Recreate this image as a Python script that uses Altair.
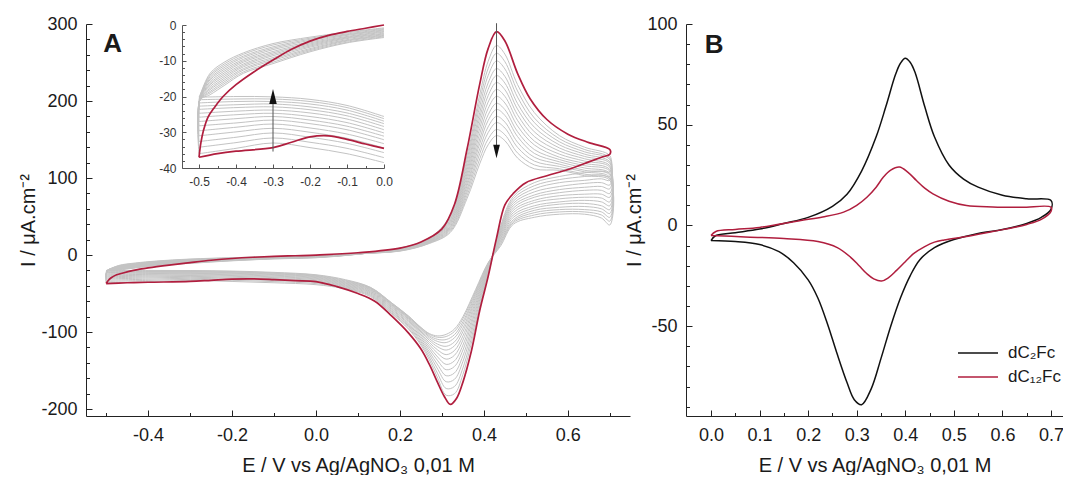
import altair as alt
import pandas as pd

FONT = "Liberation Sans"
TXT = "#1a1a1a"
AXC = "#222222"
GRAY = "#c3c3c3"
RED = "#b01e3e"
BLACK = "#111111"

# ---------------- Panel A data (I in uA/cm2, E in V) ----------------
# gray cycles 2..15 : rows = potentials, columns = cycles
GF_E = [-0.5, -0.497, -0.47, -0.43, -0.38, -0.3, -0.2, -0.1, 0.0, 0.1, 0.2, 0.27,
        0.32, 0.36, 0.39, 0.41, 0.43, 0.45, 0.48, 0.52, 0.58, 0.64, 0.7]
GRAY_FWD = [
    [-36.0, -34.2, -32.6, -31.0, -29.6, -28.2, -27.0, -25.8, -24.7, -23.6, -22.7, -21.8, -20.9, -20.2],
    [-21.0, -20.9, -20.8, -20.7, -20.6, -20.5, -20.4, -20.3, -20.2, -20.1, -20.0, -19.9, -19.7, -19.5],
    [-19.5, -19.0, -18.6, -18.1, -17.7, -17.2, -16.7, -16.3, -15.8, -15.3, -14.9, -14.4, -14.0, -13.5],
    [-16.8, -16.3, -15.8, -15.3, -14.8, -14.3, -13.8, -13.3, -12.8, -12.3, -11.8, -11.3, -10.8, -10.3],
    [-13.5, -13.1, -12.6, -12.2, -11.7, -11.3, -10.9, -10.4, -10.0, -9.6, -9.1, -8.7, -8.2, -7.8],
    [-10.8, -10.4, -9.9, -9.5, -9.1, -8.6, -8.2, -7.8, -7.4, -6.9, -6.5, -6.1, -5.6, -5.2],
    [-7.5, -7.2, -6.9, -6.6, -6.2, -5.9, -5.6, -5.3, -5.0, -4.7, -4.3, -4.0, -3.7, -3.4],
    [-5.0, -4.8, -4.5, -4.3, -4.1, -3.8, -3.6, -3.4, -3.2, -2.9, -2.7, -2.5, -2.2, -2.0],
    [-3.5, -3.3, -3.1, -2.9, -2.7, -2.5, -2.3, -2.0, -1.8, -1.6, -1.4, -1.2, -1.0, -0.8],
    [1.0, 1.1, 1.2, 1.2, 1.3, 1.4, 1.5, 1.5, 1.6, 1.7, 1.8, 1.8, 1.9, 2.0],
    [9.0, 8.7, 8.4, 8.1, 7.8, 7.5, 7.2, 6.9, 6.6, 6.3, 6.0, 5.7, 5.4, 5.1],
    [22, 21, 20.5, 20, 19.5, 19, 18.5, 18, 17.5, 17, 16.5, 16, 15.5, 15],
    [51.6, 49.7, 47.8, 45.9, 44.2, 42.5, 40.8, 39.1, 37.3, 35.9, 34.2, 32.6, 30.9, 29.4],
    [129.4, 124.6, 119.9, 115.1, 110.8, 106.5, 102.3, 98.0, 93.7, 90.0, 85.7, 81.8, 77.6, 73.7],
    [208.2, 200.5, 192.9, 185.1, 178.3, 171.4, 164.5, 157.6, 150.7, 144.7, 137.9, 131.6, 124.8, 118.5],
    [251.4, 242.0, 232.9, 223.5, 215.2, 206.9, 198.6, 190.3, 182.0, 174.7, 166.4, 158.9, 150.6, 143.1],
    [272, 262, 252, 242, 233, 224, 215, 206, 197, 189, 180, 172, 163, 155],
    [260.8, 251.0, 241.6, 231.9, 223.2, 214.6, 206.0, 197.4, 188.8, 181.3, 172.6, 164.9, 156.2, 148.5],
    [221.4, 213.1, 205.1, 196.8, 189.5, 182.2, 174.9, 167.6, 160.2, 153.9, 146.6, 139.9, 132.6, 126.0],
    [185, 178, 172, 166, 160, 154, 148, 143, 137, 132, 127, 122, 117, 112],
    [155, 151, 147, 143, 139, 135, 131, 127, 124, 121, 118, 115, 112, 110],
    [140, 137, 134, 131, 128, 125, 122, 119, 116, 113, 110, 108, 105, 103],
    [129, 126, 124, 121, 119, 116, 114, 111, 109, 106, 104, 101, 99, 97],
]
GR_E = [0.7, 0.68, 0.64, 0.58, 0.52, 0.47, 0.44, 0.41, 0.38, 0.35, 0.33, 0.31, 0.29,
        0.27, 0.25, 0.22, 0.18, 0.13, 0.07, 0.0, -0.1, -0.2, -0.3, -0.4, -0.5]
GRAY_REV = [
    [108, 102, 97, 91, 86, 80, 75, 69, 64, 59, 54, 49, 44, 39],
    [109, 104, 99, 94, 89, 84, 79, 74, 69, 64, 60, 56, 52, 48],
    [107, 102, 97, 93, 88, 84, 79, 75, 71, 67, 63, 59, 56, 53],
    [102, 98, 94, 89, 85, 81, 77, 73, 69, 66, 62, 59, 56, 53],
    [94, 90, 86, 82, 78, 75, 71, 68, 64, 61, 58, 55, 52, 49],
    [76, 73, 70, 67, 64, 61, 58, 55, 52, 49, 46, 44, 42, 40],
    [38, 36, 34, 32, 30, 28, 26, 24, 22, 20, 18, 16, 14, 12],
    [-26.0, -24.2, -22.3, -20.8, -19.2, -17.8, -16.4, -15.3, -14.1, -13.2, -12.2, -11.4, -10.6, -10.0],
    [-92.0, -86.7, -81.5, -76.8, -72.2, -68.2, -64.2, -60.6, -57.2, -54.3, -51.5, -49.2, -46.9, -45.0],
    [-155.0, -146.6, -138.1, -130.7, -123.3, -116.9, -110.4, -104.9, -99.4, -94.9, -90.2, -86.6, -82.8, -80.0],
    [-180.0, -170.6, -161.3, -153.0, -144.6, -137.3, -130.1, -123.9, -117.8, -112.7, -107.4, -103.3, -99.1, -96.0],
    [-182.0, -173.3, -164.5, -156.7, -148.9, -142.0, -135.2, -129.3, -123.4, -118.5, -113.6, -109.7, -105.8, -103.0],
    [-160.0, -154.2, -148.2, -142.7, -137.3, -132.5, -127.7, -123.4, -119.2, -115.8, -112.3, -109.5, -106.8, -105.0],
    [-136.0, -132.6, -129.0, -125.8, -122.4, -119.3, -116.2, -113.5, -110.8, -108.5, -106.3, -104.6, -102.9, -102.0],
    [-117.0, -114.9, -112.6, -110.4, -108.1, -106.0, -103.8, -101.9, -99.9, -98.4, -96.7, -95.6, -94.5, -94.0],
    [-96.0, -94.5, -92.7, -91.4, -89.5, -88.0, -86.3, -84.9, -83.3, -82.2, -81.0, -80.2, -79.3, -79.0],
    [-76.0, -74.9, -73.4, -72.2, -70.7, -69.5, -68.0, -66.8, -65.5, -64.6, -63.6, -62.9, -62.2, -62.0],
    [-54.0, -52.7, -51.6, -50.4, -49.2, -48.1, -47.1, -46.1, -45.1, -44.3, -43.4, -42.9, -42.3, -42.0],
    [-44.0, -43.1, -42.2, -41.2, -40.3, -39.4, -38.5, -37.5, -36.6, -35.7, -34.8, -33.8, -32.9, -32.0],
    [-38.5, -37.1, -35.7, -34.4, -33.2, -32.1, -31.1, -30.2, -29.3, -28.4, -27.6, -26.9, -26.2, -25.6],
    [-36.0, -34.5, -33.1, -31.7, -30.5, -29.3, -28.3, -27.3, -26.3, -25.4, -24.6, -23.8, -23.1, -22.5],
    [-34.3, -32.8, -31.4, -30.0, -28.8, -27.6, -26.6, -25.6, -24.6, -23.7, -22.9, -22.1, -21.4, -20.8],
    [-33.0, -31.6, -30.2, -28.9, -27.7, -26.6, -25.6, -24.7, -23.8, -22.9, -22.1, -21.4, -20.7, -20.1],
    [-34.5, -32.9, -31.4, -29.9, -28.6, -27.4, -26.2, -25.1, -24.1, -23.1, -22.3, -21.4, -20.7, -20.0],
    [-36.0, -34.2, -32.6, -31.0, -29.6, -28.2, -27.0, -25.8, -24.7, -23.6, -22.7, -21.8, -20.9, -20.2],
]
# first cycle (red)
RF_E = [-0.5, -0.495, -0.488, -0.475, -0.46, -0.435, -0.4, -0.35, -0.3, -0.25, -0.2, -0.15,
        -0.1, -0.05, 0.0, 0.1, 0.2, 0.25, 0.3, 0.33, 0.36, 0.39, 0.41, 0.43, 0.45, 0.48,
        0.51, 0.55, 0.6, 0.65, 0.7]
RF_I = [-37.0, -33.0, -29.5, -25.6, -23.3, -20.0, -16.7, -13.0, -9.8, -6.8, -4.5, -2.9,
        -1.8, -0.9, 0.0, 3, 9, 17, 34, 66, 138, 222, 268, 290, 278, 236,
        203, 176, 157, 146, 137]
RR_E = [0.7, 0.68, 0.65, 0.6, 0.55, 0.5, 0.47, 0.45, 0.43, 0.41, 0.39, 0.37, 0.35, 0.335,
        0.32, 0.305, 0.29, 0.27, 0.25, 0.22, 0.18, 0.14, 0.1, 0.05, 0.0, -0.05, -0.1,
        -0.15, -0.2, -0.25, -0.3, -0.4, -0.45, -0.5]
RR_I = [131, 127, 121, 111, 103, 94, 80, 65, 22, -28, -72, -125, -165, -186,
        -194, -183, -166, -142, -122, -101, -79, -60, -50, -41, -34.5, -33.3, -32.0,
        -31.0, -31.3, -32.8, -34.3, -35.3, -36.0, -37.0]

# ---------------- Panel B data ----------------
SERIES = ["dC\u2082Fc", "dC\u2081\u2082Fc"]
BK_F_E = [0.0, 0.01, 0.05, 0.1, 0.15, 0.2, 0.25, 0.28, 0.31, 0.34, 0.36, 0.38, 0.39, 0.4,
          0.41, 0.42, 0.44, 0.46, 0.49, 0.52, 0.55, 0.6, 0.65, 0.7]
BK_F_I = [-7.5, -5.0, -3.6, -1.8, 1.0, 4.0, 9.5, 15.5, 27, 44, 59, 75, 80.5, 83,
          81, 76, 59, 44, 30, 23, 19, 15, 13.2, 12.4]
BK_R_E = [0.7, 0.68, 0.65, 0.6, 0.55, 0.5, 0.46, 0.43, 0.41, 0.39, 0.37, 0.35, 0.33, 0.31,
          0.295, 0.28, 0.26, 0.24, 0.22, 0.2, 0.17, 0.14, 0.1, 0.05, 0.0]
BK_R_I = [8, 4, 1, -2, -4, -7, -11, -17, -25, -36, -50, -66, -81, -89,
          -86.5, -78, -64, -49, -36, -27, -18.5, -13, -9.5, -8, -7.5]
RB_F_E = [0.0, 0.01, 0.05, 0.1, 0.185, 0.23, 0.273, 0.3, 0.321, 0.34, 0.355, 0.37, 0.388,
          0.405, 0.423, 0.44, 0.457, 0.49, 0.526, 0.58, 0.64, 0.7]
RB_F_I = [-5.0, -3.0, -2.0, -1.0, 2.5, 4.2, 6.6, 10, 14, 19, 24, 27.5, 29,
          26.5, 22.3, 18.5, 15.7, 12, 9.9, 9.2, 9.0, 9.1]
RB_R_E = [0.7, 0.68, 0.65, 0.628, 0.58, 0.526, 0.48, 0.46, 0.44, 0.417, 0.4, 0.382, 0.365,
          0.351, 0.335, 0.321, 0.305, 0.287, 0.26, 0.22, 0.15, 0.07, 0.0]
RB_R_I = [7, 3, 0.5, -0.8, -3, -5.5, -7.2, -8.3, -10.5, -14, -18, -22.3, -26,
          -27.6, -26.5, -24, -20, -15.7, -11, -8, -6.5, -5.7, -5.0]

# annotations (data coordinates)
ARROW_A = {"E": 0.43, "top": 301, "base": 141, "head": 134.5}
ARROW_IN = {"E": -0.3, "bottom": -35.4, "base": -21.5, "head": -20.0}
LABEL_A = {"E": -0.507, "I": 263, "text": "A"}
LABEL_B = {"E": -0.013, "I": 85.6, "text": "B"}

X_TITLE = "E / V vs Ag/AgNO\u2083 0,01 M"
Y_TITLE = "I / \u03bcA.cm\u207b\u00b2"

# ---------------- tables ----------------
rows = []
for k in range(len(GRAY_FWD[0])):
    o = 0
    for e, r in zip(GF_E, GRAY_FWD):
        rows.append({"E": e, "I": r[k], "cycle": k + 2, "branch": "f", "o": o}); o += 1
    for e, r in zip(GR_E, GRAY_REV):
        rows.append({"E": e, "I": r[k], "cycle": k + 2, "branch": "r", "o": o}); o += 1
gray_df = pd.DataFrame(rows)

rows = []
o = 0
for e, i in zip(RF_E, RF_I):
    rows.append({"E": e, "I": i, "branch": "f", "o": o}); o += 1
for e, i in zip(RR_E, RR_I):
    rows.append({"E": e, "I": i, "branch": "r", "o": o}); o += 1
red_df = pd.DataFrame(rows)

rows = []
for s, parts in zip(SERIES, [((BK_F_E, BK_F_I), (BK_R_E, BK_R_I)),
                             ((RB_F_E, RB_F_I), (RB_R_E, RB_R_I))]):
    o = 0
    for es, is_ in parts:
        for e, i in zip(es, is_):
            rows.append({"E": e, "I": i, "s": s, "o": o}); o += 1
b_df = pd.DataFrame(rows)

# ---------------- geometry (pixels inside the plot group) ----------------
W, H = 977, 392
A_XD, A_XR = [-0.548, 0.748], [0, 544]
A_YD, A_YR = [-209, 300], [392, 0]
IN_XD, IN_XR = [-0.546, 0.0], [96, 298]
IN_YD, IN_YR = [-40, 0], [144, 1]
B_XD, B_XR = [-0.0515, 0.7247], [600, 977]
B_YD, B_YR = [-94.6, 100], [392, 0]


def sc(d, r):
    return alt.Scale(domain=d, range=r, nice=False, zero=False)


def fmt(f):
    return "replace(format(datum.value, '%s'), '\u2212', '-')" % f


def lab_axis(orient, values, f, offset, size, pad, color=TXT, dom=AXC, title=None, tpad=0):
    kw = dict(orient=orient, values=values, ticks=False, grid=False, offset=offset,
              domainColor=dom, domainWidth=1, labelExpr=fmt(f), labelFont=FONT,
              labelFontSize=size, labelColor=color, labelPadding=pad, labelFlush=False,
              labelOverlap=False)
    if title is not None:
        kw.update(title=title, titleFont=FONT, titleFontSize=20, titleFontWeight="normal",
                  titleColor=TXT, titlePadding=tpad)
    else:
        kw.update(title=None)
    return alt.Axis(**kw)


def tick_layer(xd, xr, yd, yr, xv, yv, xoff, yoff, size, color):
    dummy = pd.DataFrame({"E": [xd[0]], "I": [yd[0]]})
    return alt.Chart(dummy).mark_point(opacity=0).encode(
        x=alt.X("E:Q", scale=sc(xd, xr),
                axis=alt.Axis(orient="top", offset=xoff, values=xv, labels=False, domain=False,
                              grid=False, tickSize=size, tickColor=color, tickWidth=1, title=None)),
        y=alt.Y("I:Q", scale=sc(yd, yr),
                axis=alt.Axis(orient="right", offset=yoff, values=yv, labels=False, domain=False,
                              grid=False, tickSize=size, tickColor=color, tickWidth=1, title=None)),
    )


# ---------------- Panel A main ----------------
A_YAXIS = lab_axis("left", [-200, -100, 0, 100, 200, 300], "d", 0, 18, 9, title=Y_TITLE, tpad=2)
xA = alt.X("E:Q", scale=sc(A_XD, A_XR),
           axis=lab_axis("bottom", [-0.4, -0.2, 0.0, 0.2, 0.4, 0.6], ".1f", 0, 18, 10,
                         title=X_TITLE, tpad=11))
yA = alt.Y("I:Q", scale=sc(A_YD, A_YR), axis=A_YAXIS)

gray_main = alt.Chart(gray_df).mark_line(color=GRAY, strokeWidth=1, interpolate="catmull-rom").encode(
    x=xA, y=yA, detail="cycle:N", order="o:Q")
red_main = alt.Chart(red_df).mark_line(color=RED, strokeWidth=1.7, interpolate="catmull-rom").encode(
    x=xA, y=yA, order="o:Q")
arrA_df = pd.DataFrame({"E": [ARROW_A["E"]], "I": [ARROW_A["top"]], "I2": [ARROW_A["base"]],
                        "H": [ARROW_A["head"]]})
arrA_line = alt.Chart(arrA_df).mark_rule(color="#555555", strokeWidth=1).encode(x=xA, y=yA, y2="I2:Q")
arrA_head = alt.Chart(arrA_df).mark_point(shape="M-0.5,-1L0.5,-1L0,1Z", filled=True, opacity=1,
                                          color="#111111", size=180, strokeWidth=0).encode(
    x=xA, y=alt.Y("H:Q", scale=sc(A_YD, A_YR), axis=A_YAXIS))
labA_df = pd.DataFrame({"E": [LABEL_A["E"]], "I": [LABEL_A["I"]], "t": [LABEL_A["text"]]})
labA = alt.Chart(labA_df).mark_text(font=FONT, fontSize=26, fontWeight="bold", align="left",
                                    baseline="alphabetic", color=TXT).encode(x=xA, y=yA, text="t:N")
A_main = alt.layer(gray_main, red_main, arrA_line, arrA_head, labA)

A_major = tick_layer(A_XD, A_XR, A_YD, A_YR, [-0.4, -0.2, 0.0, 0.2, 0.4, 0.6],
                     [-200, -100, 0, 100, 200, 300], -H, -W, 6, AXC)
A_minor = tick_layer(A_XD, A_XR, A_YD, A_YR, [-0.5, -0.3, -0.1, 0.1, 0.3, 0.5, 0.7],
                     [v for v in range(-200, 301, 20) if v % 100 != 0], -H, -W, 3.5, AXC)

# ---------------- Inset ----------------
IN_YAXIS = lab_axis("left", [-40, -30, -20, -10, 0], "d", -IN_XR[0], 12, 6,
                    color="#333333", dom="#555555")
xIn = alt.X("E:Q", scale=sc(IN_XD, IN_XR),
            axis=lab_axis("bottom", [-0.5, -0.4, -0.3, -0.2, -0.1, 0.0], ".1f", IN_YR[0] - H, 12, 8,
                          color="#333333", dom="#555555"))
yIn = alt.Y("I:Q", scale=sc(IN_YD, IN_YR), axis=IN_YAXIS)
gray_in = alt.Chart(gray_df).transform_filter("datum.E <= 0").mark_line(
    color=GRAY, strokeWidth=1, interpolate="catmull-rom").encode(
    x=xIn, y=yIn, detail=["cycle:N", "branch:N"], order="o:Q")
red_in = alt.Chart(red_df).transform_filter("datum.E <= 0").mark_line(
    color=RED, strokeWidth=1.7, interpolate="catmull-rom").encode(
    x=xIn, y=yIn, detail="branch:N", order="o:Q")
arrIn_df = pd.DataFrame({"E": [ARROW_IN["E"]], "I": [ARROW_IN["bottom"]], "I2": [ARROW_IN["base"]],
                         "H": [ARROW_IN["head"]]})
arrIn_line = alt.Chart(arrIn_df).mark_rule(color="#555555", strokeWidth=1).encode(x=xIn, y=yIn, y2="I2:Q")
arrIn_head = alt.Chart(arrIn_df).mark_point(shape="M-0.5,1L0.5,1L0,-1Z", filled=True, opacity=1,
                                            color="#111111", size=225, strokeWidth=0).encode(
    x=xIn, y=alt.Y("H:Q", scale=sc(IN_YD, IN_YR), axis=IN_YAXIS))
In_main = alt.layer(gray_in, red_in, arrIn_line, arrIn_head)

In_major = tick_layer(IN_XD, IN_XR, IN_YD, IN_YR, [-0.5, -0.4, -0.3, -0.2, -0.1, 0.0],
                      [-40, -30, -20, -10, 0], -IN_YR[0], IN_XR[0] - W, 4, "#555555")
In_minor = tick_layer(IN_XD, IN_XR, IN_YD, IN_YR, [-0.45, -0.35, -0.25, -0.15, -0.05],
                      [v for v in range(-38, 0, 2) if v % 10 != 0], -IN_YR[0], IN_XR[0] - W, 2.5, "#555555")

# ---------------- Panel B ----------------
xB = alt.X("E:Q", scale=sc(B_XD, B_XR),
           axis=lab_axis("bottom", [0.0, 0.1, 0.2, 0.3, 0.4, 0.5, 0.6, 0.7], ".1f", 0, 18, 10,
                         title=X_TITLE, tpad=11))
yB = alt.Y("I:Q", scale=sc(B_YD, B_YR),
           axis=lab_axis("left", [-50, 0, 50, 100], "d", -B_XR[0], 18, 9,
                         title=Y_TITLE, tpad=2))
lines_B = alt.Chart(b_df).mark_line(strokeWidth=1.5, interpolate="catmull-rom").encode(
    x=xB, y=yB, order="o:Q",
    color=alt.Color("s:N", scale=alt.Scale(domain=SERIES, range=[BLACK, RED]),
                    legend=alt.Legend(orient="none", legendX=881, legendY=318, title=None,
                                      symbolType="M-2,0L2,0", symbolSize=400, symbolStrokeWidth=1.6,
                                      labelFont=FONT, labelFontSize=17, labelColor=TXT,
                                      labelOffset=19, rowPadding=5, padding=0)))
labB_df = pd.DataFrame({"E": [LABEL_B["E"]], "I": [LABEL_B["I"]], "t": [LABEL_B["text"]]})
labB = alt.Chart(labB_df).mark_text(font=FONT, fontSize=26, fontWeight="bold", align="left",
                                    baseline="alphabetic", color=TXT).encode(x=xB, y=yB, text="t:N")
B_main = alt.layer(lines_B, labB)

B_major = tick_layer(B_XD, B_XR, B_YD, B_YR, [0.0, 0.1, 0.2, 0.3, 0.4, 0.5, 0.6, 0.7],
                     [-50, 0, 50, 100], -H, B_XR[0] - W, 6, AXC)
B_minor = tick_layer(B_XD, B_XR, B_YD, B_YR, [0.05, 0.15, 0.25, 0.35, 0.45, 0.55, 0.65],
                     [v for v in range(-90, 101, 10) if v % 50 != 0], -H, B_XR[0] - W, 3.5, AXC)

chart = alt.layer(
    A_main, A_major, A_minor, In_main, In_major, In_minor, B_main, B_major, B_minor
).resolve_scale(
    x="independent", y="independent", color="independent"
).resolve_axis(
    x="independent", y="independent"
).properties(
    width=W, height=H,
    padding={"left": 78, "top": 16, "right": 0, "bottom": 59},
    autosize=alt.AutoSizeParams(type="none"),
    background="white",
).configure_view(stroke=None)

chart.save("out.html", embed_options={"renderer": "svg", "actions": False})
